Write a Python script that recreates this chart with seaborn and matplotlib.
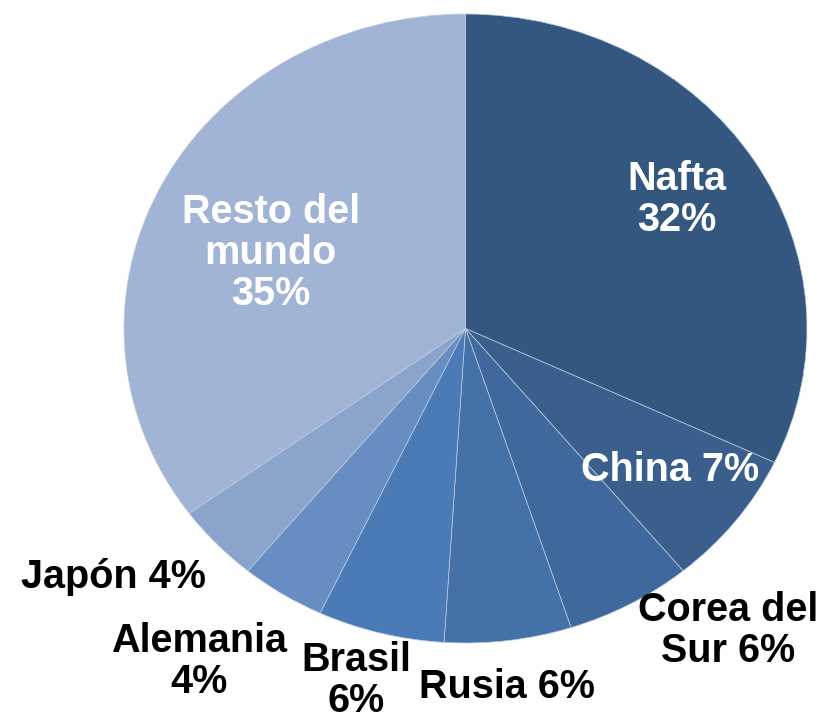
import matplotlib
matplotlib.use("Agg")
import matplotlib.pyplot as plt
import seaborn as sns

# Datos
regiones = ["Nafta", "China", "Corea del Sur", "Rusia", "Brasil",
            "Alemania", "Japón", "Resto del mundo"]
porcentajes = [32, 7, 6, 6, 6, 4, 4, 35]
etiquetas = ["Nafta\n32%", "China 7%", "Corea del\nSur 6%", "Rusia 6%",
             "Brasil\n6%", "Alemania\n4%", "Japón 4%", "Resto del\nmundo\n35%"]

# Estilo
colores = ["#34577f", "#3a5f8d", "#3f699d", "#4472a8", "#4a7bb7",
           "#678dc2", "#8aa4cc", "#a2b4d6"]
color_texto = ["white", "white", "black", "black", "black", "black", "black", "white"]
pos_texto = [(0.62, 0.41), (0.60, -0.45), (0.77, -0.96), (0.12, -1.14),
             (-0.32, -1.12), (-0.78, -1.06), (-1.03, -0.79), (-0.57, 0.24)]

sns.set_theme(style="white")
plt.rcParams['font.family'] = ['Liberation Sans', 'DejaVu Sans']

fig = plt.figure(figsize=(8.26, 7.23), dpi=100)
ax = fig.add_axes([124 / 826, 80 / 723, 683 / 826, 629 / 723])

ax.pie(porcentajes, colors=colores, startangle=90, counterclock=False,
       radius=1, wedgeprops=dict(edgecolor="#bccbe2", linewidth=0.5))
ax.set_aspect("auto")
ax.set_xlim(-1, 1)
ax.set_ylim(-1, 1)
ax.axis("off")

for txt, (x, y), c in zip(etiquetas, pos_texto, color_texto):
    ax.text(x, y, txt, ha="center", va="center", fontsize=28.5,
            fontweight="bold", color=c, linespacing=1.1, clip_on=False)

fig.savefig("out.png", dpi=100)
